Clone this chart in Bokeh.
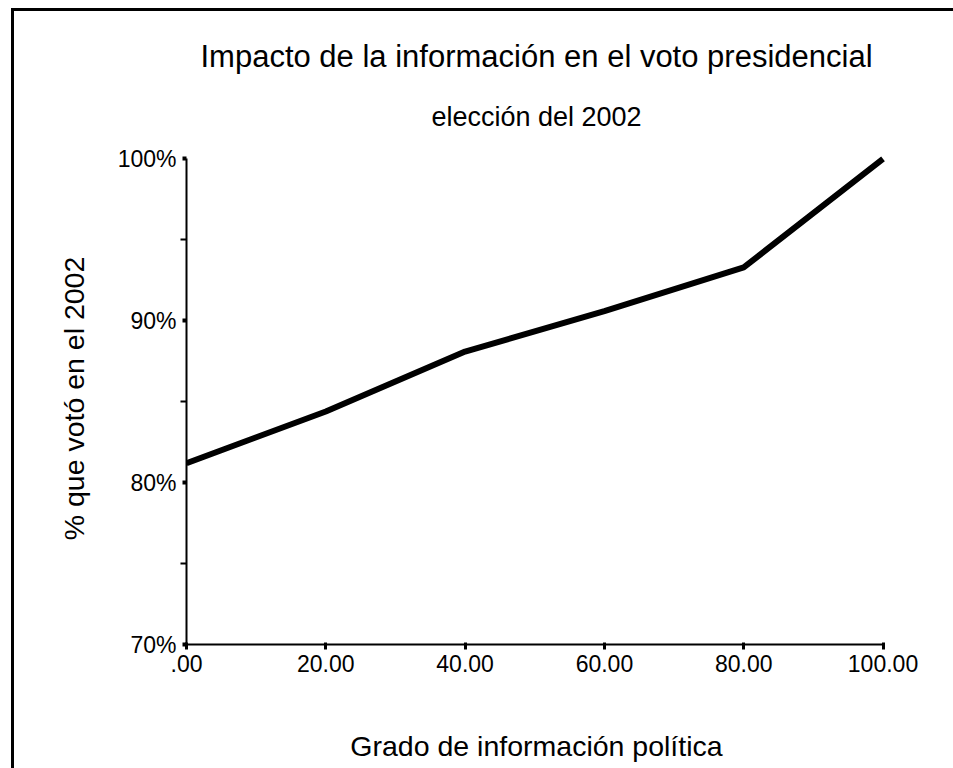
from bokeh.plotting import figure
from bokeh.layouts import column
from bokeh.models import FixedTicker, Title
from bokeh.embed import file_html
from bokeh.resources import INLINE

# Data
info_level = [0, 20, 40, 60, 80, 100]
pct_voted = [81.2, 84.4, 88.1, 90.6, 93.3, 100.0]

x_ticks = [0, 20, 40, 60, 80, 100]
x_tick_labels = [".00", "20.00", "40.00", "60.00", "80.00", "100.00"]
y_ticks = [70, 80, 90, 100]
y_minor_ticks = [75, 85, 95]
y_tick_labels = ["70%", "80%", "90%", "100%"]

title_text = "Impacto de la información en el voto presidencial"
subtitle_text = "elección del 2002"
x_label = "Grado de información política"
y_label = "% que votó en el 2002"

FONT = "Liberation Sans"

p = figure(width=939, height=757, output_backend="svg", toolbar_location=None,
           x_range=(0, 100.5), y_range=(70, 100.4),
           min_border_left=172, min_border_right=67, min_border_top=141,
           min_border_bottom=124, title=None)

p.outline_line_color = None
p.grid.visible = False
p.background_fill_color = "white"
p.border_fill_color = "white"

p.line(info_level, pct_voted, line_color="black", line_width=6)

# Titles (first added is closest to the plot)
p.add_layout(Title(text=subtitle_text, align="center", text_font=FONT,
                   text_font_size="27px", text_font_style="normal",
                   text_color="black", standoff=41, offset=-6), "above")
p.add_layout(Title(text=title_text, align="center", text_font=FONT,
                   text_font_size="31px", text_font_style="normal",
                   text_color="black", standoff=11), "above")

# X axis
xa = p.xaxis[0]
xa.ticker = FixedTicker(ticks=x_ticks, minor_ticks=[])
xa.major_label_overrides = {t: l for t, l in zip(x_ticks, x_tick_labels)}
xa.bounds = (0, 100)
xa.axis_line_width = 2
xa.axis_line_color = "black"
xa.major_tick_in = 2
xa.major_tick_out = 5
xa.major_tick_line_width = 3
xa.minor_tick_line_color = None
xa.major_label_text_font = FONT
xa.major_label_text_font_size = "23px"
xa.major_label_text_color = "black"
xa.major_label_standoff = 5
xa.axis_label = x_label
xa.axis_label_text_font = FONT
xa.axis_label_text_font_size = "28.5px"
xa.axis_label_text_font_style = "normal"
xa.axis_label_text_color = "black"
xa.axis_label_standoff = 55

# Y axis
ya = p.yaxis[0]
ya.ticker = FixedTicker(ticks=y_ticks, minor_ticks=y_minor_ticks)
ya.major_label_overrides = {t: l for t, l in zip(y_ticks, y_tick_labels)}
ya.bounds = (70, 100)
ya.axis_line_width = 2
ya.axis_line_color = "black"
ya.major_tick_in = 0
ya.major_tick_out = 4
ya.major_tick_line_width = 4
ya.minor_tick_in = 0
ya.minor_tick_out = 6
ya.minor_tick_line_width = 2
ya.minor_tick_line_color = "black"
ya.major_label_text_font = FONT
ya.major_label_text_font_size = "23px"
ya.major_label_text_color = "black"
ya.major_label_standoff = 4
ya.axis_label = y_label
ya.axis_label_text_font = FONT
ya.axis_label_text_font_size = "28.5px"
ya.axis_label_text_font_style = "normal"
ya.axis_label_text_color = "black"
ya.axis_label_standoff = 25

frame_lines = ("linear-gradient(black, black) 11px 8px / 942px 3px no-repeat, "
               "linear-gradient(black, black) 11px 8px / 3px 760px no-repeat, "
               "white")
layout = column(p, styles={"padding-left": "14px", "padding-top": "11px",
                           "background": frame_lines})

open("out.html", "w").write(file_html(layout, INLINE))
